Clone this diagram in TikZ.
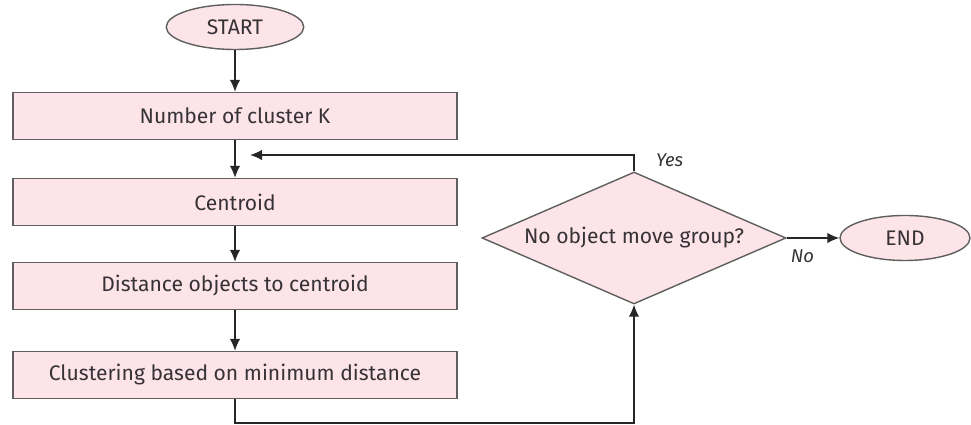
\documentclass[tikz,border=0pt]{standalone}
\usepackage{fontspec}
\setmainfont{Fira Sans}
\usetikzlibrary{
    arrows.meta,     % For arrow tips
    shapes.geometric % For ellipse and diamond nodes
}
\definecolor{boxpink}{RGB}{252,228,232}
\definecolor{boxline}{RGB}{95,95,95}
\definecolor{boxtext}{RGB}{55,50,55}

\begin{document}
\begin{tikzpicture}[
    >={Latex[length=2.4mm,width=2.1mm]}, % Default arrow tip
    font=\fontsize{12}{14}\selectfont,
    every node/.style={text=boxtext},
    terminal/.style={ellipse, draw=boxline, fill=boxpink, thick,
        minimum width=2.75cm, minimum height=0.9cm}, % START / END
    process/.style={rectangle, draw=boxline, fill=boxpink, thick,
        minimum width=8.88cm, minimum height=0.94cm}, % Step boxes
    decision/.style={diamond, draw=boxline, fill=boxpink, thick,
        inner sep=0pt, aspect=2.3, minimum width=6.08cm, minimum height=2.64cm},
    flow/.style={->, thick, draw=black!85},
    answer/.style={font=\fontsize{10.5}{12}\selectfont\itshape}
]
    % Fix the frame to the reference proportions
    \useasboundingbox (0,0) rectangle (19.42,-8.5);

    % Main column
    \node[terminal] (start) at (4.7,-0.54) {START};
    \node[process] (nclust) at (4.7,-2.32) {Number of cluster K};
    \node[process] (centroid) at (4.7,-4.04) {Centroid};
    \node[process] (dist) at (4.7,-5.72) {Distance objects to centroid};
    \node[process] (clust) at (4.7,-7.5) {Clustering based on minimum distance};

    % Decision and end
    \node[decision] (check) at (12.68,-4.76) {No object move group?};
    \node[terminal, minimum width=2.6cm] (stop) at (18.1,-4.76) {END};

    % Helper points for the loops
    \coordinate (merge) at (5.0,-3.1);  % Yes arrow tip
    \coordinate (low) at (4.7,-8.46);   % Bottom turn

    % Straight arrows down the column
    \draw[flow] (start) -- (nclust);
    \draw[flow] (nclust) -- (centroid);
    \draw[flow] (centroid) -- (dist);
    \draw[flow] (dist) -- (clust);

    % Back to the decision
    \draw[flow] (clust.south) -- (low) -| (check.south);

    % Yes: go round again
    \draw[flow] (check.north) |- (merge);
    \node[answer, anchor=west] (yes) at (13.0,-3.2) {Yes};

    % No: finish
    \draw[flow] (check.east) -- (stop.west);
    \node[answer] (no) at (16.05,-5.12) {No};

\end{tikzpicture}
\end{document}
